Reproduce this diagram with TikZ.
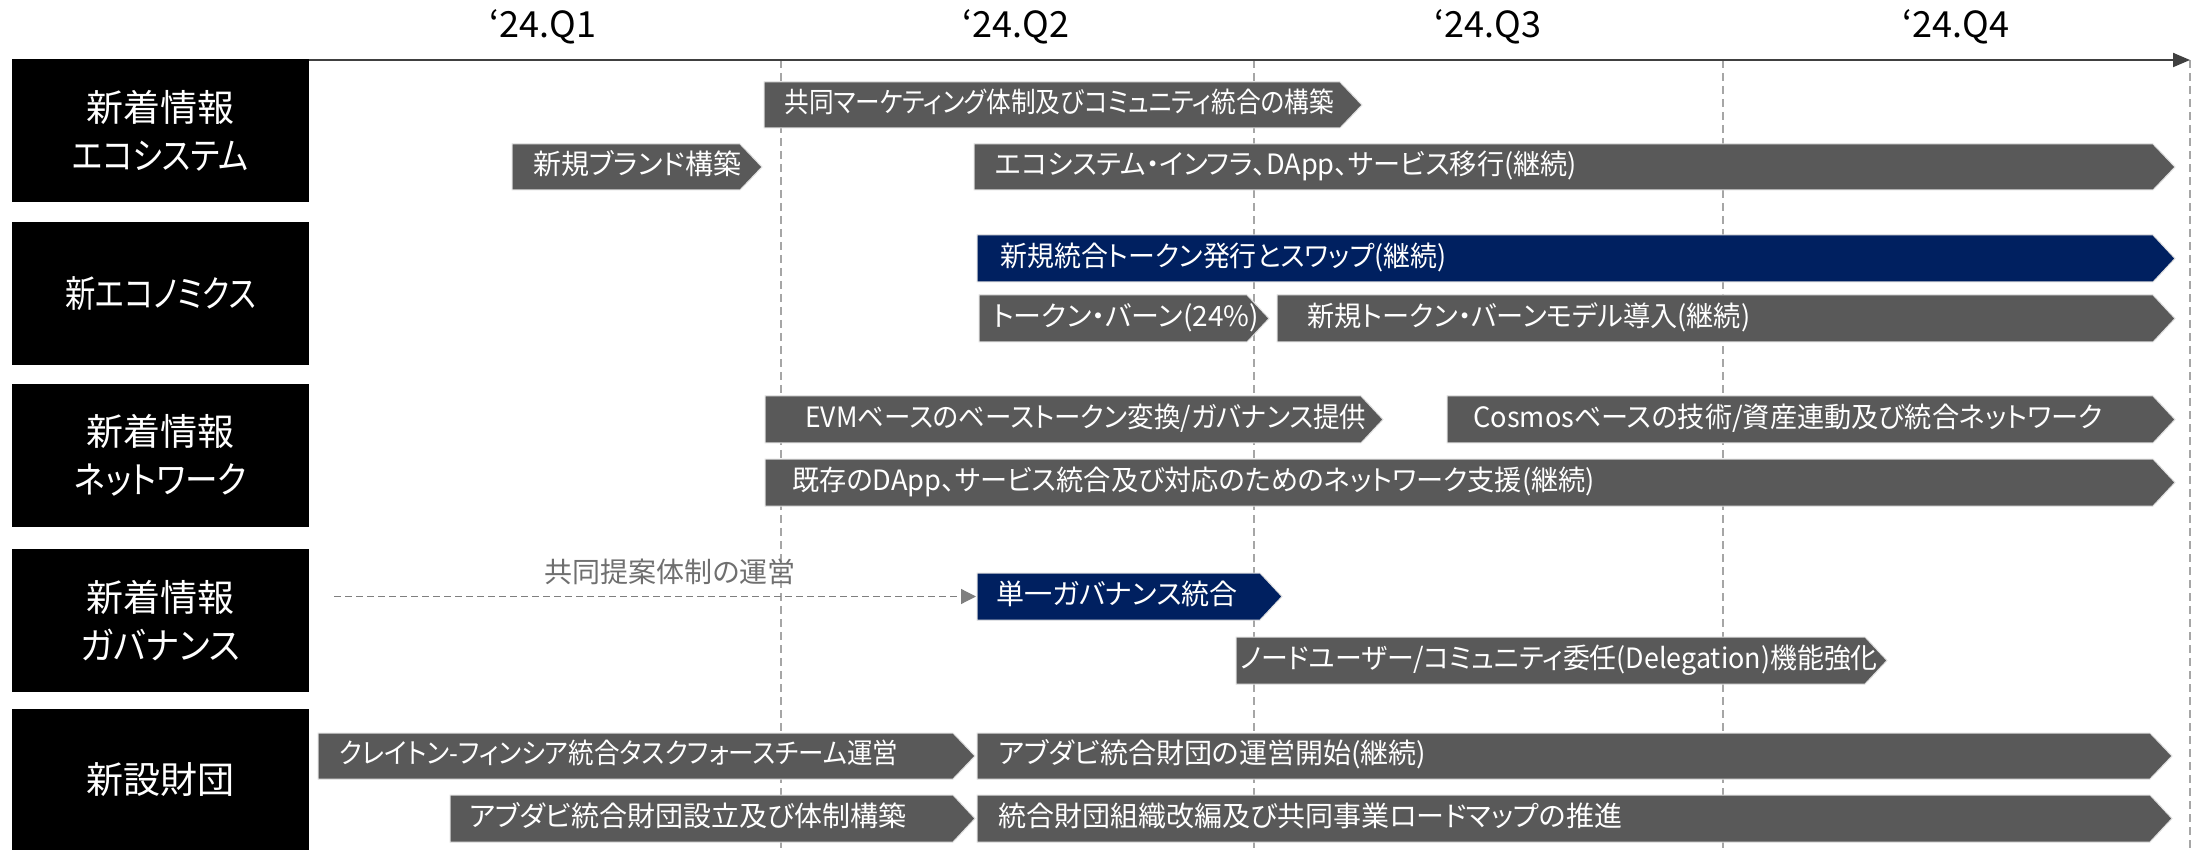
\documentclass[tikz,border=0pt]{standalone}
\usepackage{fontspec}
\usepackage{graphicx}
\setmainfont{Noto Sans CJK JP}[RawFeature=+palt]
\usetikzlibrary{arrows.meta}
\definecolor{bargray}{HTML}{595959}
\definecolor{navy}{HTML}{002060}
\definecolor{axisgray}{HTML}{404040}
\definecolor{gridgray}{HTML}{A6A6A6}
\definecolor{arrgray}{HTML}{7F7F7F}
\definecolor{lblgray}{HTML}{6F6F6F}
\tikzset{
  bartext/.style={text=white, font=\fontsize{14}{16}\selectfont, inner sep=0pt, anchor=west, text height=0.88em, text depth=0.12em},
  catbox/.style={fill=black, text=white, font=\fontsize{18.5}{24}\selectfont, align=center, inner sep=0pt, minimum width=148.5pt, minimum height=71.5pt},
  quarter/.style={font=\fontsize{18}{20}\selectfont, text=black, anchor=base, inner sep=0pt},
  vgrid/.style={draw=gridgray, line width=0.7pt, dash pattern=on 4pt off 2.5pt},
  barshape/.style={draw=black!12, line width=0.5pt},
  axisline/.style={draw=axisgray, line width=1pt, -{Triangle[length=8.5pt,width=7pt]}},
  flowarrow/.style={draw=arrgray, line width=0.6pt, dash pattern=on 3.5pt off 2pt, -{Triangle[length=7.5pt,width=7.5pt]}},
  flowlabel/.style={text=lblgray, font=\fontsize{14}{16}\selectfont, inner sep=0pt, text height=0.88em, text depth=0.12em},
}
% name, colour, x left, x tip, y top, y bottom, text x, horizontal scale, text
\newcommand{\tlbar}[9]{%
  \path[fill=#2, barshape] (#3,#5) -- ({#4-22},#5) -- (#4,{(#5+#6)/2}) -- ({#4-22},#6) -- (#3,#6) -- cycle;
  \node[bartext] (#1) at (#7,{(#5+#6)/2}) {\scalebox{#8}[1]{#9}};
}
\begin{document}
\begin{tikzpicture}[x=0.5pt, y=-0.5pt]
\useasboundingbox (0,0) rectangle (2208,850);
% grid lines
\foreach \gx in {781,1254,1723,2190} {
  \draw[vgrid] (\gx,60) -- (\gx,850);
}
% axis
\coordinate (axS) at (12,60);
\coordinate (axE) at (2190,60);
\draw[axisline] (axS) -- (axE);
% quarter labels
\node[quarter] (q1) at (543,38) {‘24.Q1};
\node[quarter] (q2) at (1016,38) {‘24.Q2};
\node[quarter] (q3) at (1488,38) {‘24.Q3};
\node[quarter] (q4) at (1956,38) {‘24.Q4};
% category boxes
\node[catbox] (c1) at (160.5,130.5) {新着情報\\\scalebox{0.86}[1]{エコシステム}};
\node[catbox] (c2) at (160.5,293.5) {\scalebox{0.82}[1]{新エコノミクス}};
\node[catbox] (c3) at (160.5,455.5) {新着情報\\\scalebox{0.88}[1]{ネットワーク}};
\node[catbox] (c4) at (160.5,620.5) {新着情報\\\scalebox{0.93}[1]{ガバナンス}};
\node[catbox] (c5) at (160.5,780) {新設財団};
% row 1
\tlbar{b1a}{bargray}{764}{1362}{82}{128}{784}{0.88}{共同マーケティング体制及びコミュニティ統合の構築}
\tlbar{b1b}{bargray}{512}{762}{144}{190}{533}{1}{新規ブランド構築}
\tlbar{b1c}{bargray}{974}{2175}{144}{190}{995}{0.97}{エコシステム・インフラ、DApp、サービス移行(継続)}
% row 2
\tlbar{b2a}{navy}{977}{2175}{235}{282}{1000}{0.96}{新規統合トークン発行とスワップ(継続)}
\tlbar{b2b}{bargray}{979}{1269}{295}{342}{992}{1}{トークン・バーン(24\%)}
\tlbar{b2c}{bargray}{1277}{2175}{295}{342}{1307}{0.97}{新規トークン・バーンモデル導入(継続)}
% row 3
\tlbar{b3a}{bargray}{765}{1383}{396}{443}{805}{0.945}{EVMベースのベーストークン変換/ガバナンス提供}
\tlbar{b3b}{bargray}{1447}{2175}{396}{443}{1473}{0.97}{Cosmosベースの技術/資産連動及び統合ネットワーク}
\tlbar{b3c}{bargray}{765}{2175}{459}{506}{792}{0.97}{既存のDApp、サービス統合及び対応のためのネットワーク支援(継続)}
% row 4
\tlbar{b4a}{navy}{977}{1282}{573}{620}{996}{1}{単一ガバナンス統合}
\tlbar{b4b}{bargray}{1236}{1887}{637}{684}{1240}{0.96}{ノードユーザー/コミュニティ委任(Delegation)機能強化}
\coordinate (flowS) at (334,596.5);
\coordinate (flowE) at (976,596.5);
\draw[flowarrow] (flowS) -- (flowE);
\node[flowlabel] (flowtxt) at (670,575) {共同提案体制の運営};
% row 5
\tlbar{b5a}{bargray}{318}{975}{733}{779}{339}{0.91}{クレイトン-フィンシア統合タスクフォースチーム運営}
\tlbar{b5b}{bargray}{977}{2172}{733}{779}{998}{1}{アブダビ統合財団の運営開始(継続)}
\tlbar{b5c}{bargray}{450}{975}{795}{842}{469}{1}{アブダビ統合財団設立及び体制構築}
\tlbar{b5d}{bargray}{977}{2172}{795}{842}{998}{1}{統合財団組織改編及び共同事業ロードマップの推進}
\end{tikzpicture}
\end{document}
